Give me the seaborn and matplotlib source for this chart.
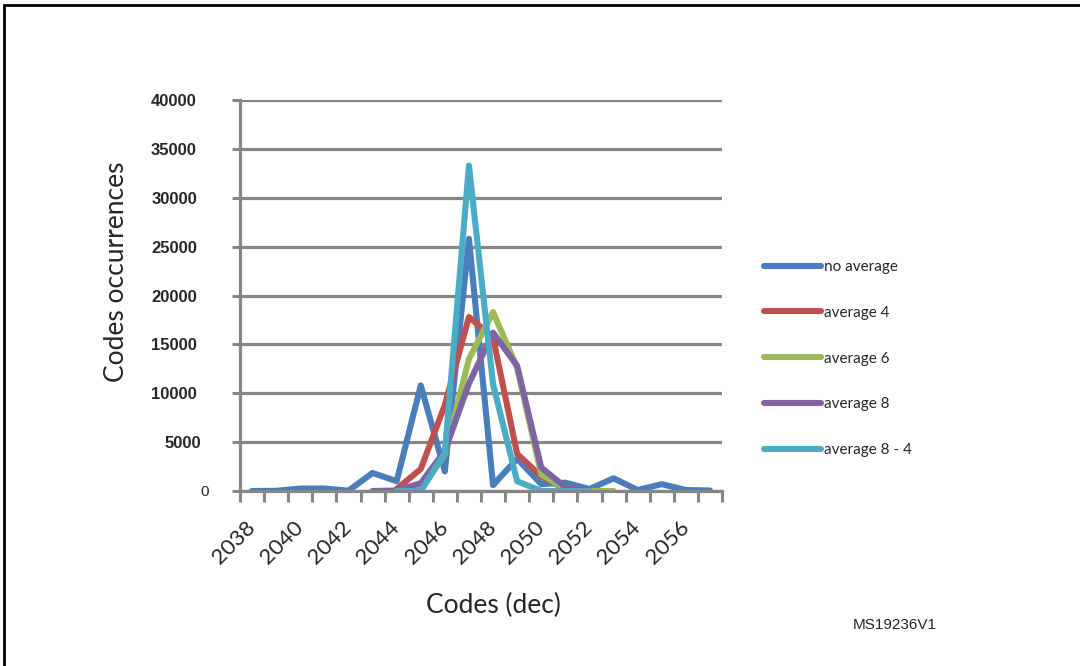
import matplotlib
matplotlib.use("Agg")
import matplotlib.pyplot as plt
import matplotlib.transforms as mtransforms
from matplotlib.lines import Line2D
import numpy as np
import pandas as pd
import seaborn as sns

# ---------------- data ----------------
codes = list(range(2038, 2058))
tick_labels = [str(c) for c in codes[::2]]

no_average_codes = list(range(2038, 2058))
no_average = [0, 20, 250, 250, 30, 1850, 1000, 10800, 2000, 25800,
              600, 3300, 700, 850, 200, 1300, 100, 700, 100, 50]

average4_codes = list(range(2044, 2053))
average4 = [200, 2250, 8800, 17800, 15700, 3800, 1500, 200, 0]

average6_codes = list(range(2044, 2054))
average6 = [0, 100, 3750, 13500, 18300, 12600, 1700, 200, 0, 0]

average8_codes = list(range(2043, 2053))
average8 = [0, 50, 800, 4100, 11000, 16200, 12800, 2400, 400, 0]

average84_codes = list(range(2044, 2053))
average84 = [0, 0, 3900, 33300, 10900, 1000, 0, 0, 0]

series_names = ["no average", "average 4", "average 6", "average 8", "average 8 - 4"]
series_colors = ["#4A7EBB", "#C0504D", "#9BBB59", "#8064A2", "#4BACC6"]
y_ticks = list(range(0, 40001, 5000))

rows = []
for name, xs, ys in zip(series_names,
                        [no_average_codes, average4_codes, average6_codes,
                         average8_codes, average84_codes],
                        [no_average, average4, average6, average8, average84]):
    for c, v in zip(xs, ys):
        rows.append({"series": name, "pos": codes.index(c), "value": v})
df = pd.DataFrame(rows)

# ---------------- style ----------------
sns.set_style("white")
plt.rcParams["font.family"] = ["Lato", "DejaVu Sans"]

fig = plt.figure(figsize=(10.8, 6.66), dpi=100)
ax = fig.add_axes([240 / 1080, 1 - 491 / 666, 482 / 1080, 391 / 666])

grid_col = "#868686"

sns.lineplot(data=df, x="pos", y="value", hue="series", hue_order=series_names,
             palette=dict(zip(series_names, series_colors)), ax=ax,
             estimator=None, sort=False, linewidth=4.4, legend=False,
             solid_capstyle="round", solid_joinstyle="round")

ax.set_xlim(-0.5, len(codes) - 0.5)
ax.set_ylim(0, 40000)
ax.set_xlabel("")
ax.set_ylabel("")

# y axis
ax.set_yticks(y_ticks)
ax.set_yticklabels([str(v) for v in y_ticks], fontfamily="Liberation Sans",
                   fontweight="bold", fontsize=12)
ax.yaxis.grid(True, color=grid_col, linewidth=2.3)
ax.set_axisbelow(True)
ax.tick_params(axis="y", direction="out", length=6, width=2.2, color=grid_col,
               pad=25, left=True)

# x axis
ax.set_xticks(list(range(0, len(codes), 2)))
ax.set_xticklabels(tick_labels, rotation=45, ha="right", va="center",
                   rotation_mode="anchor", fontsize=16)
ax.set_xticks(np.arange(-0.5, len(codes), 1.0), minor=True)
ax.tick_params(axis="x", which="major", length=0, pad=24)
ax.tick_params(axis="x", which="minor", direction="out", length=8, width=2.2,
               color=grid_col, bottom=True)

for side in ["top", "right"]:
    ax.spines[side].set_visible(False)
for side in ["left", "bottom"]:
    ax.spines[side].set_color(grid_col)
    ax.spines[side].set_linewidth(2.3)

# the "0" label is plain and sits a bit to the right
for lab in ax.get_yticklabels():
    if lab.get_text() == "0":
        lab.set_fontweight("normal")
        lab.set_fontsize(11)
        lab.set_transform(lab.get_transform() +
                          mtransforms.ScaledTranslation(12 / 100, 0, fig.dpi_scale_trans))
    elif lab.get_text() == "5000":
        lab.set_transform(lab.get_transform() +
                          mtransforms.ScaledTranslation(4 / 100, 0, fig.dpi_scale_trans))

# axis titles
fig.text(117 / 1080, 1 - 272 / 666, "Codes occurrences", rotation=90,
         ha="center", va="center", fontsize=19)
fig.text(493 / 1080, 1 - 605 / 666, "Codes (dec)", ha="center", va="center",
         fontsize=19)

# legend
handles = [Line2D([0], [0], color=c, lw=4.4, solid_capstyle="round")
           for c in series_colors]
fig.legend(handles, series_names, loc="upper left",
           bbox_to_anchor=(764 / 1080, 1 - 260 / 666), frameon=False,
           fontsize=11, handlelength=3.7, handletextpad=0.25,
           labelspacing=2.08, borderpad=0, borderaxespad=0)

# reference code
fig.text(895 / 1080, 1 - 625 / 666, "MS19236V1", ha="center", va="center",
         fontfamily="Liberation Sans", fontsize=11)

# frame lines
fig.add_artist(Line2D([3.5 / 1080, 3.5 / 1080], [0, 1 - 5 / 666],
                      transform=fig.transFigure, color="black", lw=2))
fig.add_artist(Line2D([3.5 / 1080, 1], [1 - 5 / 666, 1 - 5 / 666],
                      transform=fig.transFigure, color="black", lw=2))

fig.savefig("out.png", dpi=100)
